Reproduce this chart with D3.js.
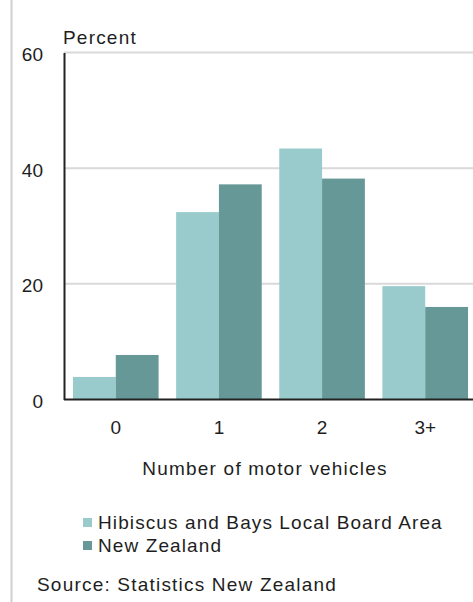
<!DOCTYPE html>
<html><head><meta charset="utf-8">
<script src="https://cdn.jsdelivr.net/npm/d3@7"></script>
<style>
html,body{margin:0;padding:0;background:#fff;}
text{font-family:"Liberation Sans",Arial,sans-serif;fill:#1e1e1e;}
</style></head>
<body>
<svg id="chart" width="473" height="602"></svg>
<script>
const categories = ["0", "1", "2", "3+"];
const seriesNames = ["Hibiscus and Bays Local Board Area", "New Zealand"];
const hibiscus = [3.9, 32.4, 43.4, 19.6];
const newZealand = [7.7, 37.2, 38.2, 16.0];
const yTicks = [0, 20, 40, 60];
const colors = ["#9acbcc", "#669898"];

const svg = d3.select("#chart");
const fs = 19;
const font = "Liberation Sans, Arial, sans-serif";

// left border line
svg.append("line").attr("x1", 11.5).attr("x2", 11.5).attr("y1", 0).attr("y2", 602)
  .attr("stroke", "#cfcfcf").attr("stroke-width", 2);

const x0 = d3.scaleBand().domain(categories).range([64, 477]).paddingInner(0.17).paddingOuter(0.087);
const x1 = d3.scaleBand().domain(seriesNames).range([0, x0.bandwidth()]);
const y = d3.scaleLinear().domain([0, 60]).range([399.5, 52.5]);

// gridlines
svg.append("g").selectAll("line").data(yTicks.filter(d => d > 0)).join("line")
  .attr("x1", 64).attr("x2", 473).attr("y1", d => y(d)).attr("y2", d => y(d))
  .attr("stroke", "#d9d9d9").attr("stroke-width", 2);

// bars
const data = categories.map((c, i) => ({cat: c, vals: [hibiscus[i], newZealand[i]]}));
const g = svg.append("g").selectAll("g").data(data).join("g")
  .attr("transform", d => `translate(${x0(d.cat)},0)`);
g.selectAll("rect").data(d => d.vals.map((v, j) => ({v, s: seriesNames[j], j}))).join("rect")
  .attr("x", d => x1(d.s)).attr("width", x1.bandwidth())
  .attr("y", d => y(d.v)).attr("height", d => y(0) - y(d.v))
  .attr("fill", d => colors[d.j]);

// y axis
const yAxis = d3.axisLeft(y).tickValues(yTicks).tickSize(0).tickPadding(21);
const ya = svg.append("g").attr("transform", "translate(64,0)").call(yAxis);
ya.select(".domain").attr("stroke", "#222").attr("stroke-width", 2);
ya.selectAll("text").attr("font-size", fs).attr("dy", "0.42em")
  .attr("font-family", font).attr("fill", "#1e1e1e");

// x axis
const xAxis = d3.axisBottom(x0).tickSize(0).tickPadding(21);
const xa = svg.append("g").attr("transform", `translate(0,${y(0)})`).call(xAxis);
xa.select(".domain").attr("d", "M64,0H473").attr("stroke", "#222").attr("stroke-width", 2);
xa.selectAll("text").attr("font-size", fs)
  .attr("font-family", font).attr("fill", "#1e1e1e");

// y title
svg.append("text").attr("x", 63).attr("y", 44).attr("font-size", fs).attr("letter-spacing", 1.2).text("Percent");

// x title
svg.append("text").attr("x", 265).attr("y", 475).attr("text-anchor", "middle")
  .attr("font-size", fs).attr("letter-spacing", 1.2).text("Number of motor vehicles");

// legend
const leg = svg.append("g").selectAll("g").data(seriesNames).join("g")
  .attr("transform", (d, i) => `translate(83,${518 + i * 23})`);
leg.append("rect").attr("width", 9).attr("height", 9).attr("fill", (d, i) => colors[i]);
leg.append("text").attr("x", 15).attr("y", 10.5).attr("font-size", fs).attr("letter-spacing", 1.1).text(d => d);

// source
svg.append("text").attr("x", 37).attr("y", 591).attr("font-size", fs).attr("letter-spacing", 1.2)
  .text("Source: Statistics New Zealand");
</script>
</body></html>
